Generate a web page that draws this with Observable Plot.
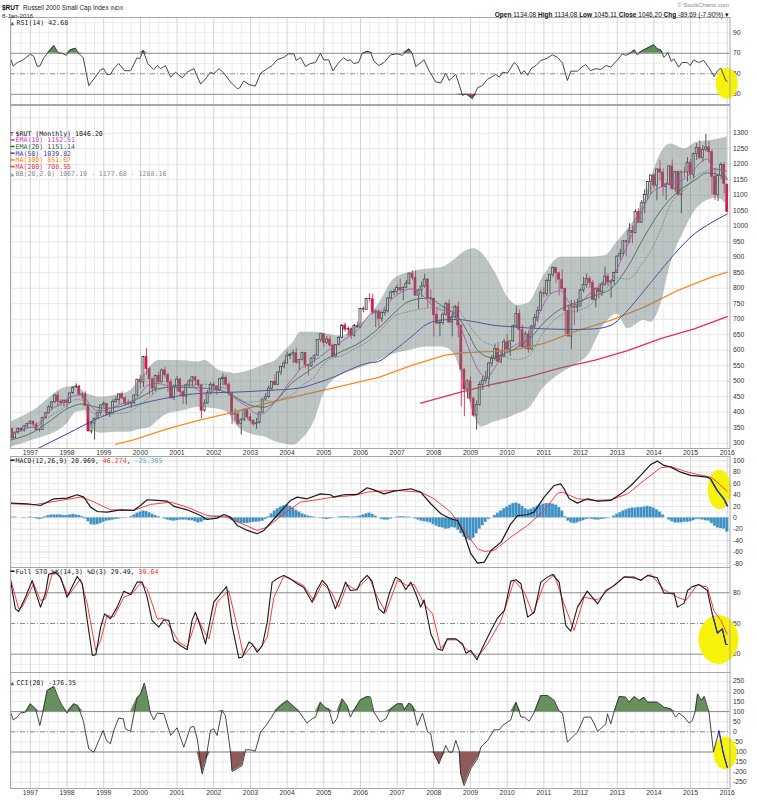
<!DOCTYPE html>
<html><head><meta charset="utf-8">
<script src="https://cdn.jsdelivr.net/npm/d3@7"></script>
<script src="https://cdn.jsdelivr.net/npm/@observablehq/plot@0.6"></script>
<style>
body{margin:0;background:#fff;}
#chart{width:757px;height:800px;position:relative;overflow:hidden;background:#fff;}
#chart svg{display:block;position:absolute;left:0;}
</style></head><body><div id="chart"></div>
<script>
// ---------- DATA (monthly, first candle = Jul 1996, index m = 0) ----------
const yearLabels = ["1997","1998","1999","2000","2001","2002","2003","2004","2005","2006","2007","2008","2009","2010","2011","2012","2013","2014","2015","2016"];
const opens = [
346.6,316.0,334.1,346.4,340.6,354.1,
362.6,369.6,360.1,342.6,343.0,380.8,396.4,415.0,432.0,453.8,434.0,429.9,
437.0,430.1,460.8,479.9,482.9,456.6,457.4,419.8,337.9,363.6,379.2,397.8,
422.0,427.2,395.3,397.6,432.8,438.7,457.7,444.8,427.8,427.3,428.6,454.1,
504.8,496.2,577.7,539.1,506.3,476.2,517.2,496.2,534.7,519.2,495.9,445.6,
483.5,505.2,464.3,450.5,487.3,499.0,512.6,502.0,486.2,404.9,428.2,462.6,
488.5,483.1,470.0,506.5,511.1,488.5,462.6,392.4,393.1,362.3,374.1,406.4,
383.1,372.2,361.0,364.5,398.7,441.0,448.4,476.0,497.4,487.7,528.2,546.5,
556.9,580.8,585.6,590.3,559.8,568.3,591.5,551.3,547.9,572.9,582.6,632.7,
651.6,624.0,634.1,615.1,579.4,616.7,639.7,679.8,666.5,667.8,646.6,678.6,
673.2,733.2,730.6,765.1,764.5,721.0,724.7,700.6,720.5,725.6,766.8,786.0,
787.7,800.3,793.3,800.7,814.6,847.2,833.7,776.1,792.9,805.5,828.0,767.8,
766.0,713.3,686.2,688.0,714.6,748.3,689.7,706.0,739.5,679.6,537.5,473.1,
499.5,443.5,389.0,422.8,487.6,501.6,508.3,557.2,572.1,604.3,562.8,579.7,
625.4,602.0,628.6,678.6,716.6,665.6,609.5,650.9,602.1,676.1,703.4,727.0,
783.7,781.3,823.5,843.6,865.3,848.3,827.4,797.0,726.8,644.2,741.1,737.4,
740.9,792.8,810.9,830.3,816.9,761.8,798.5,786.9,812.1,837.5,818.7,821.9,
849.4,902.1,911.1,951.5,947.5,984.1,977.5,1045.3,1010.9,1073.8,1100.2,1142.9,
1163.6,1130.9,1183.0,1173.0,1126.9,1134.5,1193.0,1120.1,1174.4,1101.7,1173.5,1173.2,
1204.7,1165.4,1233.4,1252.8,1220.1,1246.5,1253.9,1238.7,1159.5,1100.7,1161.9,1198.1,
1134.08];
const highs = [
347.0,336.0,348.5,350.0,357.0,364.0,
372.0,371.0,366.0,345.0,383.5,398.0,421.0,434.0,458.0,465.2,441.0,440.0,
441.0,462.0,481.0,491.4,485.0,462.0,466.0,421.0,370.0,380.0,400.0,423.0,
434.0,428.0,404.0,440.0,449.0,458.0,465.0,449.0,440.0,432.0,455.0,505.0,
519.0,580.0,606.0,545.0,510.0,520.0,530.0,540.0,545.0,525.0,505.0,488.0,
515.0,510.0,470.0,490.0,505.0,515.0,515.0,505.0,490.0,440.0,470.0,495.0,
495.0,485.0,509.0,523.0,518.0,495.0,465.0,410.0,405.0,380.0,412.0,410.0,
395.0,375.0,380.0,400.0,442.0,460.0,485.0,498.0,521.0,530.0,548.0,565.0,
594.0,590.0,600.0,606.4,570.0,593.0,592.0,553.0,575.0,585.0,634.0,654.6,
652.0,645.0,645.0,620.0,618.0,645.0,680.0,688.0,675.0,672.0,683.0,690.0,
735.0,740.0,767.0,781.8,781.0,730.0,730.0,722.0,736.0,770.0,792.0,797.0,
810.0,829.0,805.0,825.0,848.0,856.0,855.8,797.0,820.0,845.0,830.0,795.0,
767.0,730.0,697.0,720.0,755.0,763.0,720.0,745.0,756.0,680.0,540.0,505.0,
514.0,448.0,436.0,497.0,515.0,532.0,560.0,583.0,620.0,625.0,600.0,635.0,
650.0,630.0,680.0,741.9,730.0,680.0,660.0,663.0,680.0,715.0,740.0,792.0,
802.0,830.0,843.7,868.6,866.0,852.0,860.0,800.0,745.0,760.0,760.0,765.0,
797.0,835.0,846.1,837.0,825.0,800.0,815.0,820.0,868.5,848.0,826.0,852.0,
904.0,926.0,953.0,953.0,1008.0,1002.0,1053.0,1056.0,1082.0,1117.0,1143.0,1164.0,
1168.0,1185.0,1212.8,1185.0,1140.0,1194.0,1213.6,1177.0,1179.0,1178.0,1190.0,1221.4,
1215.0,1236.0,1266.0,1275.0,1260.0,1296.0,1273.0,1246.0,1186.0,1165.0,1205.0,1205.0,
1134.08];
const lows = [
307.8,314.0,329.0,335.0,336.0,345.0,
359.0,353.0,340.0,335.9,343.0,378.0,394.0,408.0,428.0,415.0,418.0,417.0,
410.0,429.0,458.0,476.0,455.0,440.0,418.0,337.0,330.0,310.3,378.0,390.0,
416.0,388.0,383.0,393.0,428.0,425.0,440.0,420.0,421.0,412.0,425.0,450.0,
475.0,480.0,520.0,453.7,455.0,465.0,488.0,495.0,510.0,464.0,440.0,437.0,
465.0,450.0,425.0,423.0,480.0,482.0,485.0,480.0,378.9,400.0,425.0,455.0,
466.0,455.0,468.0,485.0,480.0,451.0,360.0,370.0,355.0,327.0,370.0,375.0,
365.0,355.0,345.0,363.0,397.0,436.0,445.0,467.0,485.0,487.0,518.0,540.0,
555.0,570.0,557.0,555.0,535.0,565.0,540.0,517.0,545.0,560.0,580.0,625.0,
610.0,618.0,610.0,575.0,578.0,612.0,638.0,658.0,645.0,635.0,642.0,670.0,
670.0,720.0,728.0,755.0,712.0,672.7,671.9,690.0,710.0,720.0,762.0,775.0,
778.0,785.0,760.0,798.0,810.0,825.0,775.0,732.0,770.0,800.0,735.0,750.0,
642.6,680.0,643.0,680.0,710.0,685.0,643.0,700.0,640.0,417.0,385.3,443.0,
433.0,384.0,342.6,420.0,470.0,491.0,479.0,545.0,565.0,560.0,555.0,575.0,
600.0,580.0,625.0,670.0,610.0,605.0,602.0,590.0,600.0,670.0,690.0,725.0,
770.0,773.0,780.0,835.0,815.0,775.0,795.0,650.0,643.0,601.7,680.0,720.0,
740.0,785.0,800.0,800.0,760.0,737.0,765.0,773.0,805.0,805.0,767.8,810.0,
849.0,889.0,903.0,901.5,945.0,943.0,975.0,1010.0,1010.0,1040.0,1085.0,1102.0,
1119.0,1082.0,1147.0,1096.0,1082.5,1130.0,1115.0,1110.0,1098.0,1040.5,1157.0,1143.0,
1150.0,1153.0,1212.0,1215.0,1206.0,1240.0,1205.0,1101.7,1083.0,1080.0,1150.0,1104.0,
1045.11];
const closes = [
316.0,334.1,346.4,340.6,354.1,362.6,
369.6,360.1,342.6,343.0,380.8,396.4,415.0,432.0,453.8,434.0,429.9,437.0,
430.1,460.8,479.9,482.9,456.6,457.4,419.8,337.9,363.6,379.2,397.8,422.0,
427.2,395.3,397.6,432.8,438.7,457.7,444.8,427.8,427.3,428.6,454.1,504.8,
496.2,577.7,539.1,506.3,476.2,517.2,496.2,534.7,519.2,495.9,445.6,483.5,
505.2,464.3,450.5,487.3,499.0,512.6,502.0,486.2,404.9,428.2,462.6,488.5,
483.1,470.0,506.5,511.1,488.5,462.6,392.4,393.1,362.3,374.1,406.4,383.1,
372.2,361.0,364.5,398.7,441.0,448.4,476.0,497.4,487.7,528.2,546.5,556.9,
580.8,585.6,590.3,559.8,568.3,591.5,551.3,547.9,572.9,582.6,632.7,651.6,
624.0,634.1,615.1,579.4,616.7,639.7,679.8,666.5,667.8,646.6,678.6,673.2,
733.2,730.6,765.1,764.5,721.0,724.7,700.6,720.5,725.6,766.8,786.0,787.7,
800.3,793.3,800.7,814.6,847.2,833.7,776.1,792.9,805.5,828.0,767.8,766.0,
713.3,686.2,688.0,714.6,748.3,689.7,706.0,739.5,679.6,537.5,473.1,499.5,
443.5,389.0,422.8,487.6,501.6,508.3,557.2,572.1,604.3,562.8,579.7,625.4,
602.0,628.6,678.6,716.6,665.6,609.5,650.9,602.1,676.1,703.4,727.0,783.7,
781.3,823.5,843.6,865.3,848.3,827.4,797.0,726.8,644.2,741.1,737.4,740.9,
792.8,810.9,830.3,816.9,761.8,798.5,786.9,812.1,837.5,818.7,821.9,849.4,
902.1,911.1,951.5,947.5,984.1,977.5,1045.3,1010.9,1073.8,1100.2,1142.9,1163.6,
1130.9,1183.0,1173.0,1126.9,1134.5,1193.0,1120.1,1174.4,1101.7,1173.5,1173.2,1204.7,
1165.4,1233.4,1252.8,1220.1,1246.5,1253.9,1238.7,1159.5,1100.7,1161.9,1198.1,1135.9,
1046.2];

// overlays: [month index, value]
const ema10Pts = [[-0.5,330],[2,336],[5,350],[8,352],[10.4,380],[13,410],[16,427],[19,448],[22.4,455],[24,445],[25.7,421],[28,405],[30,405],[33.3,418],[37.7,432],[40,440],[42,459],[44.2,486],[47.5,493],[50.8,486],[55,483],[57,490],[59.5,483],[61,470],[62.7,459],[64.5,462],[66,470],[68,480],[70.4,475],[72.6,450],[75,430],[77,418],[79,400],[80.5,393],[82,395],[84,410],[86,432],[88,458],[90,488],[92,510],[94.4,540],[97.6,558],[100.9,580],[104.2,605],[107.5,626],[111.8,655],[114,675],[116.2,706],[118,722],[120.5,725],[122,740],[125,771],[128,790],[130.5,798],[133.7,782],[136,760],[138,739],[141.4,728],[144.6,722],[146.8,674],[150.1,588],[153.4,524],[155.6,513],[157.7,540],[161,588],[165.4,620],[168.6,631],[171.9,706],[176.3,782],[179.5,792],[182.8,750],[185,747],[188.2,775],[191.6,803],[195.9,825],[199.2,889],[202.5,965],[205.7,1040],[209,1104],[212.2,1126],[215.5,1140],[218.8,1147],[222,1169],[225.3,1206],[227.4,1217],[229.6,1185],[231.9,1180],[234,1152.5]];
const ema20Pts = [[-0.5,310],[7,336],[12.6,373],[18,411],[23.5,427],[26.8,418],[31,413],[36.6,422],[42,448],[47.5,475],[53,481],[59.5,479],[66,475],[72.6,452],[78,422],[82.4,416],[86.7,440],[91.1,490],[96.5,529],[102,567],[107.5,594],[114,626],[120.5,676],[125,720],[130.5,760],[135.9,768],[141.4,738],[145.7,710],[149,660],[152.3,600],[156.7,577],[161,588],[165.4,610],[169.8,642],[174.1,690],[179.5,733],[185,755],[190.5,776],[195.9,798],[201.4,868],[206.8,965],[212.2,1050],[217.7,1110],[223.2,1147],[227.4,1172],[230.7,1168],[234,1151]];
const ma50Pts = [[8.5,283],[18,330],[29,384],[39.8,421],[50.8,446],[61.7,461],[72.5,464.5],[83.5,470],[94.4,478.5],[100,495],[105.2,513],[110,535],[116.2,558],[119.6,563],[125,599],[130.5,642],[135.9,685],[141.4,698],[145.7,699],[152.3,690],[157.7,680],[163.2,676],[174.1,669],[185,667],[190.5,669],[195.9,680],[200.3,717],[206.8,792],[212.2,857],[217.7,921],[223.2,975],[228.6,1010],[234,1039.8]];
const ma100Pts = [[33.9,296],[39.8,311],[50.8,346],[61.7,375],[72.6,400],[83.5,429],[94.4,454],[105.3,478.5],[120,512],[130.5,550],[141.4,583],[146.8,591],[152.3,594],[163.2,599],[174.1,622],[185,663],[195.9,696],[206.8,739],[217.7,792],[228.6,835],[234,851.7]];
const ma200Pts = [[133.7,429],[146.8,464.5],[157.7,491],[168.6,513],[179.5,543],[190.5,567],[201.4,599],[212.2,637],[223.2,669],[234,708.5]];
const bbM  = [-0.5,7,18,21,24,26,29,34,38,42,45,48,51,56,61,63,68,71,73,78,83,86,89,92,94.4,99,102,105,108,112,116,120,125,130,136,141,144.6,148,151,153.5,157.7,163,165.4,169,174,179.5,185,188,194,198,201.4,206.8,209,212,215.5,220,224,227.4,230.7,234];
const bbUp = [368,405,481,483,462,455,448,455,465,507,545,567,567,566,562,567,534,528,524,535,555,565,595,625,658,658,655,648,645,674,701,750,830,851,862,868,890,918,927,915,857,760,744,752,840,900,900,900,905,950,990,1080,1150,1230,1265,1250,1271,1275,1280,1288];
const bbLo = [287,310,362,400,405,350,332,335,335,345,350,375,395,405,416,414,408,395,362,330,319,305,298,293,308,373,459,502,520,535,550,567,588,599,610,610,588,491,395,352,368,384,395,411,480,524,556,577,685,717,669,696,690,739,878,986,1056,1083,1091,1067];

const rsiPts = [[-0.5,64.6],[0.4,57.5],[1.7,61],[3.3,63],[6,69],[7.1,67],[8.2,57.5],[9.1,57.5],[10.4,65.6],[11.5,69.5],[13.7,77.6],[15.1,70.5],[16.4,70],[17.8,68],[19.1,73.4],[20.8,75],[21.5,71],[23.3,65.6],[25.1,38.6],[26.8,45],[29,54],[30,55],[31,49.4],[32.2,49.4],[33.3,55],[34.9,60],[36.8,53],[38.8,53],[40.9,65.6],[41.8,64.6],[42.9,72.8],[44.4,60],[46.4,54],[47.5,58],[48.6,55],[50.2,58],[51.9,46.7],[53.5,51.6],[55.7,46],[57.3,51.6],[59.5,55],[61.7,40],[63.3,45],[64.9,51.6],[66,50],[67.7,55],[69.3,50.6],[71.5,42],[73.7,35.4],[74.5,36.3],[75.8,43],[77.5,39.6],[79.6,38],[81.3,50.6],[83.5,55],[85.1,58],[86.7,63.6],[88.9,66],[90.5,69.5],[92.2,69.5],[93,63],[94.4,66],[96,57],[97.6,60],[99.3,61],[100.9,70],[102,63.6],[103.6,63.6],[105,53],[106.9,61],[108.5,65.6],[109.6,63],[110.7,63.6],[111.8,60],[113.4,61],[114.5,69.5],[116.2,72],[117.3,71],[118.4,62.4],[120,58],[121.7,61],[123.9,68.5],[126.1,69.5],[127.7,68],[129.9,74.4],[131,69.5],[132.1,57],[134.8,63.6],[136.5,52.6],[138.6,42],[140.3,41],[141.9,50.6],[143,43.5],[145.2,49.4],[147.4,28.9],[148.5,30.5],[150.6,25.6],[152.3,36.3],[153.9,38.6],[155.5,44.5],[157.2,47.4],[158.3,49.4],[159.4,46.7],[160.5,51.6],[162.1,50.6],[164.3,61],[165.4,58],[166.5,50],[167.6,53],[168.7,48.4],[169.8,55],[171.4,58],[173,63],[174.7,64.6],[176.8,68.5],[178.5,66],[180.1,60.4],[181.7,43.5],[182.8,52.6],[185,52.6],[186.6,57],[187.7,59],[189.3,53],[191,55],[192.6,54.2],[194.3,58],[195.9,56.5],[198.1,63.6],[199.7,69.5],[200.8,68],[202.5,70.5],[203.6,73.4],[204.6,68.5],[206.3,72.8],[208.4,76],[210,78.3],[211.1,74.4],[212.2,73.4],[213.3,66],[214.6,70.5],[215.7,62],[216.5,64.6],[218.1,56.5],[219.2,61],[220.9,61],[221.9,58],[223,63.6],[224.6,61],[226.3,63],[227.9,56.5],[229.7,47.4],[230.8,53],[231.9,55.5],[233.5,43.5],[234,42.7]];

const macdPts = [[-0.5,25.7],[5,24.6],[9.3,21.6],[13.7,33.3],[18,34.5],[21.3,40.4],[23.5,36.3],[25.7,18.7],[27.9,11],[31.1,10],[35.5,14],[39.8,12.9],[42,21.6],[44.2,31.6],[47.5,30.4],[50.8,29.2],[53,19.9],[57.3,14],[61.7,4],[63.8,-2.9],[67.1,-0.6],[69.3,5.8],[71.5,1.2],[73.7,-13.5],[77,-22.2],[80.2,-28],[82.4,-22.2],[86.7,4],[91.1,30.4],[93.3,36.3],[96.5,33.3],[100.9,42],[104.2,40.4],[105.2,36.3],[108.5,40.4],[113,41],[116.2,52.6],[118.4,49],[121.7,42],[125,46.8],[130.5,50.9],[133.7,45],[137,24.6],[140.3,7],[143.5,-1.8],[145.7,-4.7],[147.9,-28],[150.1,-63],[152.3,-79.5],[154.5,-77.8],[156.7,-57.3],[160,-42.7],[163.2,-10.5],[165.4,4],[168.6,5.3],[170.8,10],[174.1,36.3],[177.4,56.7],[179.5,59.6],[180.6,50.9],[182.3,33.3],[185,25.7],[188.2,33.3],[191.6,29.2],[195.9,30.4],[199.2,42],[202.5,56.7],[205.7,74.3],[209,93.6],[211.1,99.4],[213.3,91.8],[215.5,88.9],[218.8,80],[222,74.3],[225.3,72.5],[227.4,71.3],[228.5,68.4],[230.7,48],[232.9,33.3],[234,21]];
const signalPts = [[-0.5,24.6],[7.1,22.8],[12.6,27.5],[22.4,36.3],[25.7,30.4],[32.2,14],[39.8,12.9],[45.3,23.4],[51.9,27.5],[57.3,18.7],[63.8,4],[70.4,1.2],[74.8,-9.4],[80.2,-22.2],[83.5,-16.4],[88.9,7],[94.4,27.5],[99.8,31.6],[105.2,36.3],[111.8,39.2],[116.2,45],[120.5,46.8],[126.1,48],[133.7,45],[138.1,33.3],[143.5,10],[147.9,-22.2],[152.3,-54.4],[154.5,-59],[157.7,-57.3],[163.2,-33.9],[168.6,-13.5],[174.1,12.9],[178.5,43.3],[180.1,45],[185,33.3],[190.5,30.4],[195.9,31.6],[201.4,42],[206.8,65.5],[212.2,87.7],[215.5,90],[219.9,81.9],[224.2,76],[228.6,71.3],[230.7,62.6],[234,46.3]];
const macdHist = [
1,1,0,0,-1,0,1,-1,-2,-3,-2,
2,4,5,5,5,5,4,4,5,6,5,4,2,
-2,-7,-12,-13,-12,-10,-8,-6,-5,-4,-3,-2,-1,-1,0,
2,5,8,10,12,11,9,6,4,2,
0,-2,-4,-5,-6,-5,-4,-4,-4,-5,-5,-7,-9,-8,-5,
-2,1,2,3,3,2,1,
-2,-5,-8,-9,-10,-10,-10,-9,-8,-8,-7,-6,-3,
2,7,12,16,19,21,22,20,17,13,10,7,5,3,2,1,0,
-1,-2,-3,-2,-1,0,1,2,2,2,1,1,2,3,5,7,8,6,3,0,
-3,-4,-4,-2,0,1,
2,2,1,1,0,
-2,-4,-6,-7,-8,-9,
-12,-15,-17,-18,-20,-19,-17,-18,-22,
-28,-34,-38,-40,-36,-28,
-20,-14,-8,-3,0,
4,8,12,16,19,22,25,26,24,20,
16,14,15,18,
20,22,24,25,25,24,22,18,12,
2,-6,-9,-10,-9,-7,-5,-3,-2,
-3,-4,-4,-3,-2,-1,0,
3,6,9,12,14,16,17,17,18,18,19,20,19,17,14,10,5,
0,-4,-7,-9,-9,-9,-8,-8,-7,-5,-3,-3,-4,-5,-6,
-10,-15,-18,-19,-20,-25.3];

const stoKPts = [[-0.5,92],[1.1,64.3],[2.2,61.7],[4.4,75.7],[6.6,92],[7.7,80.6],[9.3,66],[10.9,79],[12,98],[14.2,100],[15.9,95],[18,75.7],[21.3,96],[23,88.8],[24.6,53],[26.3,18.7],[27.4,19.4],[29,46.4],[30.3,59.4],[32.2,54.6],[34.4,66],[36.6,81.6],[38.8,78.3],[40.9,90.4],[42.6,90.4],[44.2,75.7],[45.8,53],[48,46.4],[49.7,53.6],[51.3,53],[52.9,33.4],[55.1,28.5],[57.3,24.3],[58.9,53],[60,61],[61.7,46.4],[63.3,30],[66,70.8],[68.2,79],[70.2,86],[72,48],[74.2,16.4],[75.3,17],[77.5,31.8],[78.6,30],[80.2,22],[81.9,28.5],[83.5,51.3],[85.1,90.4],[86.7,93.6],[88.9,97],[91.1,93.6],[93.3,88.8],[95.4,85.5],[98.2,70.8],[99.8,83],[101.5,92],[103.1,87],[105.8,64.3],[108,80.6],[109.1,90.4],[110.7,82.2],[112.9,83],[114,90.4],[116.2,97],[117.8,91.4],[120,64.3],[121.7,60],[123.4,79],[125.5,95.3],[127.2,92],[128.8,83],[130.5,90.4],[132.1,79],[133.7,66],[134.8,73],[137,40],[139.2,25.2],[140.8,23.6],[142.4,35],[145.2,35],[147.4,30],[148.5,21],[150.1,23.6],[152.1,14.5],[154.5,30],[156.7,43.2],[158.9,55.5],[161.1,62.7],[163.2,91.4],[164.9,92.7],[166.5,88.8],[168.7,56.2],[170.9,61],[173,90.4],[175.2,95.3],[176.8,98],[179,90.4],[181.2,48],[182.8,42.5],[185,66],[188.2,81.6],[191.6,69.2],[194.3,82.2],[197,87],[200.3,95.3],[203.6,95.3],[205.7,92],[207.9,97],[211.1,94.6],[213.3,79.6],[216.6,79.6],[217.7,66],[219.9,69.9],[221,82.2],[222.6,86],[224.8,88],[227.5,82.2],[229.1,59.4],[230.8,40.6],[232.4,44.8],[233.5,30],[234,29.5]];
const stoDPts = [[-0.5,93.6],[2.2,64.3],[3.3,66],[7.1,88.8],[9.3,72.5],[10.9,74],[13.1,98],[15,99],[18.5,77.4],[22.4,93.6],[24.6,69.2],[27.4,23.6],[29,33.4],[31.1,57.8],[33.3,56.2],[36.6,75.7],[39.3,79],[42,89.4],[44.2,83.9],[47.5,54.6],[49.7,54.6],[52.4,43.2],[54.6,31.8],[57.3,26.9],[60.6,56.2],[62.7,43.2],[64.4,35],[67.1,70.8],[70.9,82.2],[73.7,46.4],[75.8,18.7],[78.6,28.5],[80.8,23.6],[83.5,36.6],[85.7,75.7],[88.9,96],[92.2,92],[95.4,87],[98.7,72.5],[101.5,88.8],[104.2,82.2],[106.9,66],[109.6,88],[112.4,83],[115.1,90.4],[116.8,95.3],[119.5,75.7],[122.3,61],[126.1,92],[129.4,87],[131.6,88],[134.8,69.2],[137.6,59.4],[140.3,25.2],[142.4,34],[145.7,34],[148.5,25.2],[152.3,17],[155.6,30],[160,53],[164.3,92],[167.6,80.6],[170.4,59.4],[174.1,88.8],[177.4,98],[180.6,69.2],[183.9,43.2],[187.2,75.7],[191.6,73],[195.9,84.9],[200.3,96],[205.7,92.7],[209,98],[213.3,83],[217.7,75.7],[220.5,72.5],[224.2,88],[227.5,85.5],[229.6,62.7],[231.9,53],[234,39.6]];
const cciPts = [[-0.5,97],[0.4,59],[1.7,72.6],[2.8,94],[4.4,97],[6,138.6],[7.7,113.9],[9.1,31.4],[10.2,105.6],[11.5,204.6],[13.7,224.4],[15.3,163],[16.4,130],[18,92.4],[20.2,138.6],[21.5,130],[23.3,56],[25.1,-84],[26.8,-100.7],[28.4,-43],[29.8,6.6],[30.9,-43],[32.2,-59.4],[33.3,6.6],[34.9,67.7],[36.4,64.4],[37.1,14.9],[38.8,1.7],[40.9,168.3],[42,184.8],[43.3,241],[44.2,180],[45.3,92.4],[46.4,59.4],[47.5,92.4],[49.7,89],[51.9,-18],[54,19.8],[56.2,-76],[58.4,23],[59.5,26.4],[60.6,-34.7],[62.2,-208],[63.3,-150],[64.9,6.6],[66,14.9],[67.1,-18],[68.7,105.6],[69.8,80.9],[71.5,-100.7],[72,-196],[73.7,-183],[75.3,-166.7],[76.4,-89],[78,-89],[79.6,-95.7],[81.3,-1.7],[83.5,39.6],[85.7,92.4],[87.8,130],[90,155],[92.2,125.4],[94.4,89],[96.5,42.9],[98.2,64.4],[99.3,72.6],[100.9,146.9],[102.5,118.8],[103.6,113.9],[105,39.6],[106.3,64.4],[108,163.4],[109.6,130.4],[110.7,72.6],[111.8,105.6],[114,158.4],[116.2,175],[117.3,171.6],[118.4,97.4],[120.5,47.9],[122.3,64.4],[123.9,113.9],[126.1,138.6],[127.7,138.6],[128.3,108.9],[129.9,142],[131,130.4],[132.6,31.4],[134.3,92.4],[135.9,1.7],[137,-9.9],[138.1,-109],[139.7,-158.4],[141.9,-67.7],[143,-100.7],[144.1,-100.7],[145.2,-43],[146.3,-92.4],[146.8,-208],[147.9,-265.7],[149,-224.4],[150.1,-183],[152.3,-133.7],[153.4,-76],[155.6,-43],[157.7,9.9],[159.4,9.9],[160.5,31.4],[163.2,59.4],[164.9,146.9],[166.5,72.6],[167.6,72.6],[169.2,52.8],[170.9,97.4],[173,180],[175.2,180],[177.4,155],[179,102.3],[180.1,92.4],[181.7,-51],[183.9,-18],[185,-1.7],[187.2,72.6],[189.3,72.6],[190.5,39.6],[191.6,1.7],[194.3,39.6],[194.8,89],[195.9,39.6],[197,100.7],[198.7,175],[200.8,171.6],[201.9,146.9],[203.6,175],[205.2,155],[206.8,171.6],[207.9,146.9],[211.1,146.9],[213.3,122],[215.5,113.9],[217.1,72.6],[218.2,92.4],[219.9,72.6],[221.5,42.9],[222.6,56],[223.5,100],[224.3,188],[225.5,155],[226.5,175],[228,100],[229.5,-100],[231.3,5],[232.6,-100],[234,-176.35]];

// ---------- RENDER ----------
const chart = document.getElementById("chart");
const FONT = "'Liberation Sans', Arial, sans-serif";
const MONO = "'DejaVu Sans Mono', monospace";
const W = 757, ML = 10, MR = 27.5;
const xDomain = [-0.5, 234.9];
const RED = "#d9123f", UP = "#1a1a1a";
const yearTicks = yearLabels.map((_, i) => 6 + 12 * i);
const quarterGrid = d3.range(0, 235, 3).filter(m => (m - 6) % 12 !== 0);
const X = d => d[0], Y = d => d[1];

const candles = closes.map((c, i) => ({m: i, o: opens[i], h: highs[i], l: lows[i], c}));
const bbRows = bbM.map((m, i) => ({m, up: bbUp[i], lo: bbLo[i], mid: (bbUp[i] + bbLo[i]) / 2}));
const histRows = macdHist.map((v, i) => ({m: i, v}));

function vgrid() {
  return [
    Plot.ruleX(quarterGrid, {stroke: "#ebebeb", strokeWidth: 1}),
    Plot.ruleX(yearTicks, {stroke: "#d4d4d4", strokeWidth: 1})
  ];
}
function hgrid(vals, color = "#e6e6e6") { return Plot.ruleY(vals, {stroke: color, strokeWidth: 1}); }

function panel({top, height, mb = 0, yDomain, yTicks, xAxis = false, marks}) {
  const svg = Plot.plot({
    width: W, height, marginLeft: ML, marginRight: MR, marginTop: 0, marginBottom: mb,
    style: {fontFamily: FONT, fontSize: "6.8px", color: "#333", background: "transparent", overflow: "visible"},
    x: xAxis
      ? {domain: xDomain, axis: "bottom", ticks: yearTicks, tickFormat: d => yearLabels[Math.round((d - 6) / 12)], tickSize: 0, tickPadding: 2, label: null}
      : {domain: xDomain, axis: null},
    y: {domain: yDomain, axis: "right", ticks: yTicks, tickFormat: d => String(d), tickSize: 0, tickPadding: 3, label: null},
    marks: [...marks, Plot.frame({stroke: "#a8a8a8", strokeWidth: 1})]
  });
  svg.style.top = top + "px";
  chart.appendChild(svg);
  return svg;
}
const refLine = (v, dash) => Plot.ruleY([v], {stroke: "#8c8c8c", strokeWidth: 1, strokeDasharray: dash});

// RSI panel
const rsiSvg = panel({
  top: 17, height: 88, mb: 1, yDomain: [20.05, 104.9], yTicks: [30, 50, 70, 90],
  marks: [
    hgrid([40, 60, 80, 90, 100], "#eeeeee"), ...vgrid(),
    refLine(70), refLine(30), refLine(50, "5,2,1,2"),
    Plot.areaY(rsiPts, {x: X, y1: () => 70, y2: d => Math.max(70, d[1]), fill: "#5f8d5b"}),
    Plot.areaY(rsiPts, {x: X, y1: () => 30, y2: d => Math.min(30, d[1]), fill: "#8e4e52"}),
    Plot.line(rsiPts, {x: X, y: Y, stroke: "#333", strokeWidth: 0.9})
  ]
});

// Main price panel
const mainSvg = panel({
  top: 105, height: 351, mb: 8, yDomain: [282.9, 1389.4], yTicks: d3.range(300, 1301, 50), xAxis: true,
  marks: [
    hgrid(d3.range(300, 1351, 50)), ...vgrid(),
    Plot.ruleX(candles, {x: "m", y1: "l", y2: "h", stroke: d => d.c < d.o ? RED : UP, strokeWidth: 0.8}),
    Plot.rect(candles, {x1: d => d.m - 0.32, x2: d => d.m + 0.32, y1: "o", y2: "c",
      fill: d => d.c < d.o ? RED : "white", stroke: d => d.c < d.o ? RED : UP, strokeWidth: 0.7}),
    Plot.line(bbRows, {x: "m", y: "mid", stroke: "#777", strokeWidth: 0.8, strokeDasharray: "1,2", curve: "monotone-x"}),
    Plot.line(ma200Pts, {x: X, y: Y, stroke: "#ee2a4f", strokeWidth: 1.3, clip: true}),
    Plot.line(ma100Pts, {x: X, y: Y, stroke: "#ff8a1c", strokeWidth: 1.3, clip: true}),
    Plot.line(ma50Pts, {x: X, y: Y, stroke: "#3a3aa8", strokeWidth: 1, clip: true, curve: "monotone-x"}),
    Plot.line(ema20Pts, {x: X, y: Y, stroke: "#2d6040", strokeWidth: 0.9, curve: "monotone-x"}),
    Plot.line(ema10Pts, {x: X, y: Y, stroke: "#cc44cc", strokeWidth: 0.9, curve: "monotone-x"}),
    Plot.areaY(bbRows, {x: "m", y1: "lo", y2: "up", fill: "#6a7c7c", fillOpacity: 0.45, curve: "monotone-x", clip: true})
  ]
});

// MACD panel
const macdSvg = panel({
  top: 456, height: 111, yDomain: [-87.2, 107.5], yTicks: d3.range(-80, 101, 20),
  marks: [
    hgrid(d3.range(-80, 101, 10), "#eeeeee"), hgrid(d3.range(-80, 101, 20)), ...vgrid(),
    Plot.rect(histRows, {x1: d => d.m - 0.5, x2: d => d.m + 0.5, y1: () => 0, y2: "v", fill: "#3f91c4", stroke: "#a6cfe9", strokeWidth: 0.35}),
    Plot.line(signalPts, {x: X, y: Y, stroke: "#ff3b3b", strokeWidth: 1}),
    Plot.line(macdPts, {x: X, y: Y, stroke: "#1a1a1a", strokeWidth: 1.2}),
    Plot.line(macdPts.filter(d => d[0] >= 228), {x: X, y: Y, stroke: "#2430c8", strokeWidth: 1.3})
  ]
});

// Full Stochastics panel
const stoSvg = panel({
  top: 567, height: 105, yDomain: [2.1, 104.7], yTicks: [20, 50, 80],
  marks: [
    hgrid([10, 30, 40, 60, 70, 90, 100], "#eeeeee"), ...vgrid(),
    refLine(80), refLine(20), refLine(50, "5,2,1,2"),
    Plot.line(stoDPts, {x: X, y: Y, stroke: "#ff3b3b", strokeWidth: 1}),
    Plot.line(stoKPts, {x: X, y: Y, stroke: "#1a1a1a", strokeWidth: 1.1}),
    Plot.line(stoKPts.filter(d => d[0] >= 229), {x: X, y: Y, stroke: "#2430c8", strokeWidth: 1.2})
  ]
});

// CCI panel
const cciSvg = panel({
  top: 672, height: 128, mb: 12, yDomain: [-280.7, 293.6], yTicks: d3.range(-250, 251, 50), xAxis: true,
  marks: [
    hgrid(d3.range(-250, 251, 50), "#e8e8e8"), ...vgrid(),
    refLine(100), refLine(-100), refLine(0, "5,2,1,2"),
    Plot.areaY(cciPts, {x: X, y1: () => 100, y2: d => Math.max(100, d[1]), fill: "#66915f"}),
    Plot.areaY(cciPts, {x: X, y1: () => -100, y2: d => Math.min(-100, d[1]), fill: "#8e5a5c"}),
    Plot.line(cciPts, {x: X, y: Y, stroke: "#333", strokeWidth: 0.9}),
    Plot.line(cciPts.filter(d => d[0] >= 231), {x: X, y: Y, stroke: "#2430c8", strokeWidth: 1.2})
  ]
});

// yellow highlight ellipses (placed through each panel's scales, under the lines)
function highlight(svg, m, v, rx, ry) {
  const el = document.createElementNS("http://www.w3.org/2000/svg", "ellipse");
  el.setAttribute("cx", svg.scale("x").apply(m));
  el.setAttribute("cy", svg.scale("y").apply(v));
  el.setAttribute("rx", rx); el.setAttribute("ry", ry);
  el.setAttribute("fill", "#f6f20a");
  const first = svg.querySelector('g[aria-label="line"]');
  svg.insertBefore(el, first);
}
highlight(rsiSvg, 234.0, 40.2, 11, 15.5);
highlight(macdSvg, 231.6, 48.8, 11.7, 19.7);
highlight(stoSvg, 231.3, 33.9, 20, 24.5);
highlight(cciSvg, 233.5, -107.4, 11.7, 16.3);

// ---------- TEXT OVERLAY (titles & legends) ----------
const ov = d3.select(chart).append("svg").attr("width", W).attr("height", 800)
  .style("top", "0px").style("pointer-events", "none");

const hdr = ov.append("g").attr("font-family", FONT);
hdr.append("text").attr("x", 2).attr("y", 10).attr("font-size", 8).attr("font-weight", "bold").attr("fill", "#111")
  .attr("textLength", 17).attr("lengthAdjust", "spacingAndGlyphs").text("$RUT");
const sub = hdr.append("text").attr("x", 23).attr("y", 10).attr("font-size", 6.4).attr("fill", "#222");
sub.append("tspan").text("Russell 2000 Small Cap Index ");
sub.append("tspan").attr("font-size", 5.4).text("INDX");
hdr.append("text").attr("x", 2).attr("y", 17.6).attr("font-size", 6.2).attr("fill", "#222").text("8-Jan-2016");
hdr.append("text").attr("x", 729).attr("y", 7).attr("text-anchor", "end").attr("font-size", 6).attr("fill", "#888").text("© StockCharts.com");
const ohlc = hdr.append("text").attr("x", 729).attr("y", 16.5).attr("text-anchor", "end").attr("font-size", 6.5).attr("fill", "#111");
[["Open", " 1134.08  "], ["High", " 1134.08  "], ["Low", " 1045.11  "], ["Close", " 1046.20  "], ["Chg", " -89.69 (-7.90%) \u25BE"]].forEach(([k, v]) => {
  ohlc.append("tspan").attr("font-weight", "bold").text(k);
  ohlc.append("tspan").text(v);
});

const lg = ov.append("g").attr("font-family", MONO).attr("font-size", 6.6);
function icon(x, y, color) {
  lg.append("text").attr("x", x).attr("y", y).attr("font-size", 6).attr("fill", color).text("\u25B2");
}
function swatch(x, y, color) {
  lg.append("line").attr("x1", x).attr("x2", x + 4).attr("y1", y - 2.3).attr("y2", y - 2.3).attr("stroke", color).attr("stroke-width", 1.5);
}
// RSI
icon(10.5, 24.5, "#3f6b3b");
lg.append("text").attr("x", 16.5).attr("y", 24.5).attr("fill", "#222").text("RSI(14) 42.68");
// Price legend
const legRows = [
  ["$RUT (Monthly) 1046.20", "#111", null],
  ["EMA(10) 1152.51", "#d030d0", "#d030d0"],
  ["EMA(20) 1151.14", "#2d6040", "#2d6040"],
  ["MA(50) 1039.82", "#3a3aa8", "#3a3aa8"],
  ["MA(100) 851.67", "#ff7f00", "#ff7f00"],
  ["MA(200) 708.55", "#ee2a4f", "#ee2a4f"],
  ["BB(20,2.0) 1067.19 - 1177.68 - 1288.16", "#8a8a8a", null]
];
legRows.forEach(([t, c, sw], i) => {
  const y = 135.5 + i * 6.67;
  if (sw) swatch(10.5, y, sw);
  else if (i === 0) lg.append("text").attr("x", 10.3).attr("y", y).attr("font-size", 6).attr("fill", "#111").text("\u2AEA");
  else icon(10.5, y, "#9a9a9a");
  lg.append("text").attr("x", 15.5).attr("y", y).attr("fill", c).text(t);
});
// MACD
swatch(10.5, 462.5, "#111");
const mt = lg.append("text").attr("x", 15.5).attr("y", 462.5).attr("fill", "#222");
mt.append("tspan").text("MACD(12,26,9) 20.969, ");
mt.append("tspan").attr("fill", "#ff2d2d").text("46.274");
mt.append("tspan").text(", ");
mt.append("tspan").attr("fill", "#56a7d8").text("-25.305");
// STO
swatch(10.5, 573.5, "#111");
const st = lg.append("text").attr("x", 15.5).attr("y", 573.5).attr("fill", "#222");
st.append("tspan").text("Full STO %K(14,3) %D(3) 29.49, ");
st.append("tspan").attr("fill", "#ff2d2d").text("39.64");
// CCI
icon(10.5, 685, "#3f6b3b");
lg.append("text").attr("x", 16.5).attr("y", 685).attr("fill", "#222").text("CCI(20) -176.35");
</script></body></html>
